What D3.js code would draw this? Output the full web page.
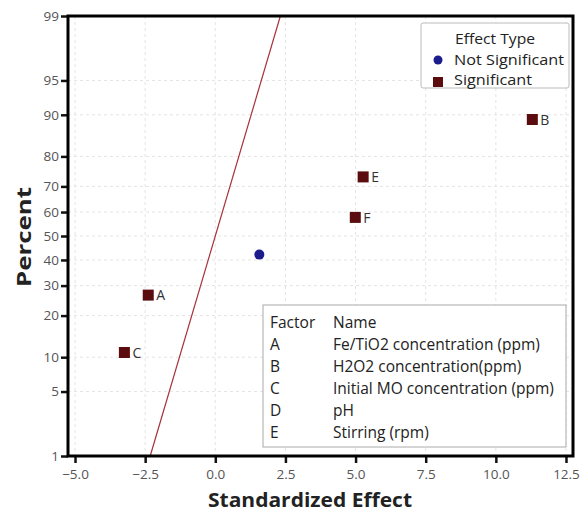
<!DOCTYPE html>
<html>
<head>
<meta charset="utf-8">
<script src="https://cdn.jsdelivr.net/npm/d3@7"></script>
<style>
  body { margin: 0; background: #fff; }
  text { font-family: "Open Sans", "Noto Sans", sans-serif; }
</style>
</head>
<body>
<script>
// effects
const labels = ['C', 'A', '', 'F', 'E', 'B'];
const effects = [-3.24, -2.39, 1.57, 4.99, 5.27, 11.3];
const percents = [10.9, 26.6, 42.2, 57.8, 73.4, 89.1];
const significant = [true, true, false, true, true, true];

// reference line ends (percent 1 and 99)
const linePercents = [1, 99];
const lineEffects = [-2.32, 2.32];

const xTicks = [-5, -2.5, 0, 2.5, 5, 7.5, 10, 12.5];
const yTicks = [1, 5, 10, 20, 30, 40, 50, 60, 70, 80, 90, 95, 99];

const factorCodes = ['A', 'B', 'C', 'D', 'E'];
const factorNames = ['Fe/TiO2 concentration (ppm)', 'H2O2 concentration(ppm)',
  'Initial MO concentration (ppm)', 'pH', 'Stirring (rpm)'];

const width = 582, height = 515;
const margin = {top: 16, right: 9, bottom: 59, left: 68};
const legendFont = '15.5px';

// inverse normal cdf (Acklam)
const probit = (p) => {
  const a = [-39.69683028665376, 220.9460984245205, -275.9285104469687, 138.357751867269, -30.66479806614716, 2.506628277459239];
  const b = [-54.47609879822406, 161.5858758520733, -155.6989798598866, 66.80131188771972, -13.28068155288572];
  const c = [-0.007784894002430293, -0.3223964580411365, -2.400758277161838, -2.549732539343734, 4.374664141464968, 2.938163982698783];
  const d = [0.007784695709041462, 0.3224671290700398, 2.445134137142996, 3.754408661907416];
  const pl = 0.02425;
  let q, r;
  if (p < pl) {
    q = Math.sqrt(-2 * Math.log(p));
    return (((((c[0]*q+c[1])*q+c[2])*q+c[3])*q+c[4])*q+c[5]) / ((((d[0]*q+d[1])*q+d[2])*q+d[3])*q+1);
  }
  if (p > 1 - pl) {
    q = Math.sqrt(-2 * Math.log(1 - p));
    return -(((((c[0]*q+c[1])*q+c[2])*q+c[3])*q+c[4])*q+c[5]) / ((((d[0]*q+d[1])*q+d[2])*q+d[3])*q+1);
  }
  q = p - 0.5; r = q * q;
  return (((((a[0]*r+a[1])*r+a[2])*r+a[3])*r+a[4])*r+a[5])*q / (((((b[0]*r+b[1])*r+b[2])*r+b[3])*r+b[4])*r+1);
};

const x = d3.scaleLinear().domain([-5.25, 12.75]).range([margin.left, width - margin.right]);
const zScale = d3.scaleLinear().domain([probit(0.01), probit(0.99)]).range([height - margin.bottom, margin.top]);
const y = (pct) => zScale(probit(pct / 100));

const svg = d3.select('body').append('svg')
  .attr('width', width)
  .attr('height', height);

// faint grid
const grid = svg.append('g').attr('stroke', '#e4e4e4').attr('stroke-dasharray', '3,3');
grid.selectAll('.vg').data(xTicks).enter().append('line')
  .attr('x1', (d) => x(d)).attr('x2', (d) => x(d))
  .attr('y1', margin.top).attr('y2', height - margin.bottom);
grid.selectAll('.hg').data(yTicks).enter().append('line')
  .attr('x1', margin.left).attr('x2', width - margin.right)
  .attr('y1', (d) => y(d)).attr('y2', (d) => y(d));

// reference line
svg.append('line')
  .attr('x1', x(lineEffects[0])).attr('y1', y(linePercents[0]))
  .attr('x2', x(lineEffects[1])).attr('y2', y(linePercents[1]))
  .attr('stroke', '#a8323c').attr('stroke-width', 1.2);

// axes
const xAxis = svg.append('g')
  .attr('transform', `translate(0,${height - margin.bottom})`)
  .call(d3.axisBottom(x).tickValues(xTicks).tickFormat(d3.format('.1f')).tickSize(7).tickSizeOuter(0));
const yScaleAxis = d3.scaleLinear().domain(zScale.domain()).range(zScale.range());
const yAxis = svg.append('g')
  .attr('transform', `translate(${margin.left},0)`)
  .call(d3.axisLeft(yScaleAxis).tickValues(yTicks.map((t) => probit(t / 100)))
    .tickFormat((d, i) => yTicks[i]).tickSize(7).tickSizeOuter(0));

[xAxis, yAxis].forEach((ax) => {
  ax.select('.domain').remove();
  ax.selectAll('.tick line').attr('stroke', '#111').attr('stroke-width', 2.5);
  ax.selectAll('.tick text').attr('fill', '#555').style('font-size', '13.5px');
});
xAxis.selectAll('.tick text').attr('dy', '0.95em');
yAxis.selectAll('.tick text').attr('dx', '1px');

// frame
svg.append('rect')
  .attr('x', margin.left).attr('y', margin.top)
  .attr('width', width - margin.left - margin.right)
  .attr('height', height - margin.top - margin.bottom)
  .attr('fill', 'none').attr('stroke', '#000').attr('stroke-width', 3);

// axis titles
svg.append('text')
  .attr('x', 310).attr('y', 507)
  .attr('text-anchor', 'middle').style('font-size', '19px').style('font-weight', 'bold')
  .attr('textLength', 204).attr('lengthAdjust', 'spacingAndGlyphs')
  .attr('fill', '#222').text('Standardized Effect');
svg.append('text')
  .attr('transform', `translate(31,237) rotate(-90)`)
  .attr('text-anchor', 'middle').style('font-size', '19px').style('font-weight', 'bold')
  .attr('textLength', 100).attr('lengthAdjust', 'spacingAndGlyphs')
  .attr('fill', '#222').text('Percent');

// points
const pts = svg.selectAll('.pt').data(effects.map((e, i) => ({e, p: percents[i], l: labels[i], s: significant[i]})))
  .enter().append('g')
  .attr('transform', (d) => `translate(${x(d.e)},${y(d.p)})`);
pts.filter((d) => d.s).append('rect')
  .attr('x', -5.5).attr('y', -5.5).attr('width', 11).attr('height', 11)
  .attr('fill', '#5a0c0e');
pts.filter((d) => !d.s).append('circle')
  .attr('r', 5).attr('fill', '#1c1c8c');
pts.append('text')
  .attr('x', 8).attr('dy', '0.38em')
  .style('font-size', '14px').attr('fill', '#333')
  .text((d) => d.l);

// effect type legend
const lgFont = '14px';
const lg = svg.append('g');
lg.append('rect')
  .attr('x', 421).attr('y', 23).attr('width', 148).attr('height', 65).attr('rx', 2)
  .attr('fill', '#fff').attr('stroke', '#bbb');
lg.append('text').attr('x', 455).attr('y', 44).style('font-size', lgFont)
  .attr('textLength', 80).attr('lengthAdjust', 'spacingAndGlyphs')
  .attr('fill', '#222').text('Effect Type');
lg.append('circle').attr('cx', 438).attr('cy', 60).attr('r', 4.5).attr('fill', '#1c1c8c');
lg.append('text').attr('x', 454).attr('y', 65).style('font-size', lgFont)
  .attr('textLength', 110).attr('lengthAdjust', 'spacingAndGlyphs')
  .attr('fill', '#222').text('Not Significant');
lg.append('rect').attr('x', 433).attr('y', 77).attr('width', 10).attr('height', 10).attr('fill', '#5a0c0e');
lg.append('text').attr('x', 454).attr('y', 84.5).style('font-size', lgFont)
  .attr('textLength', 78).attr('lengthAdjust', 'spacingAndGlyphs')
  .attr('fill', '#222').text('Significant');

// factor legend
const fl = svg.append('g');
fl.append('rect')
  .attr('x', 263).attr('y', 305).attr('width', 303).attr('height', 142)
  .attr('fill', '#fff').attr('stroke', '#aaa');
fl.append('text').attr('x', 270).attr('y', 328).style('font-size', legendFont).attr('fill', '#222').text('Factor');
fl.append('text').attr('x', 333).attr('y', 328).style('font-size', legendFont).attr('fill', '#222').text('Name');
factorCodes.forEach((c, i) => {
  const yy = 350 + i * 22;
  fl.append('text').attr('x', 270).attr('y', yy).style('font-size', legendFont).attr('fill', '#222').text(c);
  fl.append('text').attr('x', 333).attr('y', yy).style('font-size', legendFont).attr('fill', '#222').text(factorNames[i]);
});
</script>
</body>
</html>
